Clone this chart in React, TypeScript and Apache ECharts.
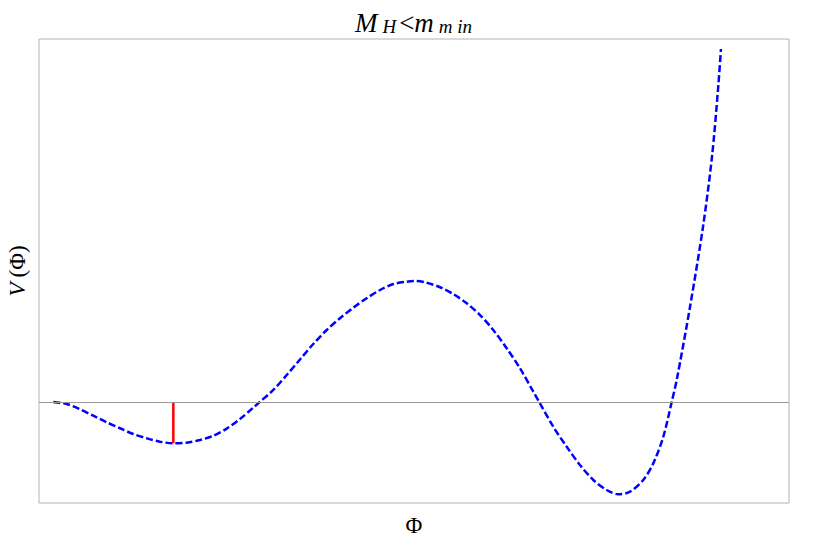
import React, { useEffect, useRef } from "react";
import * as echarts from "echarts";

const phi = [0.191, 0.369, 0.547, 0.724, 0.903, 1.08, 1.257, 1.436, 1.613, 1.791, 1.969, 2.147, 2.324, 2.503, 2.68, 2.857, 2.943, 3.124, 3.303, 3.48, 3.657, 3.836, 4.013, 4.191, 4.369, 4.547, 4.724, 4.903, 5.013, 5.169, 5.347, 5.524, 5.703, 5.88, 6.057, 6.236, 6.413, 6.591, 6.669, 6.857, 7.036, 7.213, 7.391, 7.569, 7.724, 7.88, 8.057, 8.191, 8.324, 8.436, 8.503, 8.68, 8.853, 8.973, 9.053, 9.093];
const potential = [0, -0.02, -0.072, -0.136, -0.201, -0.26, -0.317, -0.359, -0.393, -0.409, -0.403, -0.376, -0.334, -0.264, -0.168, -0.056, 0, 0.119, 0.267, 0.421, 0.574, 0.713, 0.829, 0.934, 1.027, 1.109, 1.168, 1.191, 1.198, 1.181, 1.136, 1.069, 0.977, 0.861, 0.713, 0.532, 0.334, 0.102, 0, -0.245, -0.443, -0.624, -0.772, -0.871, -0.914, -0.888, -0.772, -0.607, -0.344, 0, 0.218, 0.941, 1.733, 2.426, 3.089, 3.495];
const markerPhi = [1.791, 1.791];
const markerV = [0, -0.409];

export default function App() {
  const ref = useRef<HTMLDivElement>(null);
  useEffect(() => {
    if (!ref.current) return;
    const chart = echarts.init(ref.current, null, { renderer: "svg" });
    const serif = "Liberation Serif";
    chart.setOption({
      animation: false,
      backgroundColor: "#ffffff",
      title: {
        text: "{a|M}{b|H}{c|<}{a|m}{b|m in}",
        left: "center",
        top: 2,
        textStyle: {
          fontWeight: "normal",
          rich: {
            a: { fontFamily: serif, fontStyle: "italic", fontWeight: "normal", fontSize: 27, color: "#000", verticalAlign: "bottom" },
            b: { fontFamily: serif, fontStyle: "italic", fontWeight: "normal", fontSize: 19, color: "#000", padding: [10, 3, 0, 5], verticalAlign: "bottom" },
            c: { fontFamily: serif, fontWeight: "normal", fontSize: 27, color: "#000", verticalAlign: "bottom" },
          },
        },
      },
      grid: { left: 39, right: 41, top: 39, bottom: 40, show: true, borderColor: "#b4b4b4", borderWidth: 1, outerBoundsMode: "none", containLabel: false },
      xAxis: {
        type: "value",
        min: 0,
        max: 10,
        name: "Φ",
        nameLocation: "middle",
        nameGap: 11,
        nameTextStyle: { fontFamily: serif, fontSize: 23, color: "#000", verticalAlign: "top" },
        axisLine: { show: false },
        axisTick: { show: false },
        axisLabel: { show: false },
        splitLine: { show: false },
      },
      yAxis: {
        type: "value",
        min: -1,
        max: 3.594,
        name: "{v|V}{p|(Φ)}",
        nameLocation: "middle",
        nameRotate: 90,
        nameGap: 10,
        nameTextStyle: {
          verticalAlign: "bottom",
          rich: {
            v: { fontFamily: serif, fontStyle: "italic", fontSize: 23, color: "#000", padding: [0, 5, 0, 0] },
            p: { fontFamily: serif, fontSize: 23, color: "#000" },
          },
        },
        axisLine: { show: false },
        axisTick: { show: false },
        axisLabel: { show: false },
        splitLine: { show: false },
      },
      series: [
        {
          type: "line",
          data: phi.map((x, i) => [x, potential[i]]),
          smooth: 0.3,
          showSymbol: false,
          lineStyle: { color: "#0000ff", width: 2.5, type: [7, 3] },
          markLine: {
            silent: true,
            symbol: "none",
            label: { show: false },
            lineStyle: { color: "#999999", width: 1, type: "solid" },
            data: [{ yAxis: 0 }],
          },
          z: 3,
        },
        {
          type: "line",
          data: markerPhi.map((x, i) => [x, markerV[i]]),
          showSymbol: false,
          lineStyle: { color: "#ff0000", width: 2.5 },
          z: 4,
        },
      ],
    });
    return () => chart.dispose();
  }, []);
  return <div ref={ref} style={{ width: 830, height: 543, position: "absolute", left: 0, top: 0 }} />;
}
